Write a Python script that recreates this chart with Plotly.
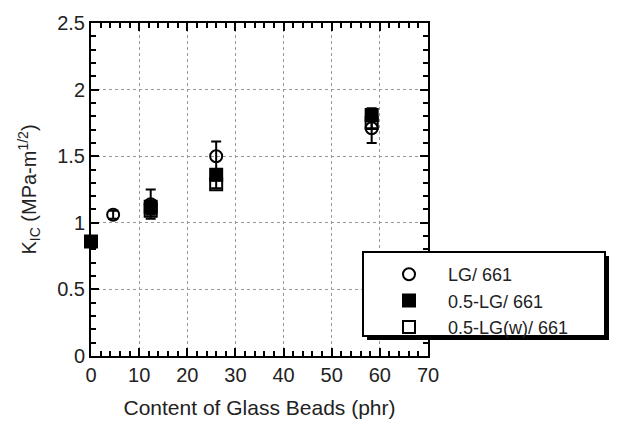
import plotly.graph_objects as go

# Data
x_lg = [4.6, 12.4, 26.0, 58.3]
y_lg = [1.06, 1.14, 1.50, 1.71]
e_lg = [0.03, 0.11, 0.11, 0.11]

x_05 = [0.0, 12.4, 26.0, 58.3]
y_05 = [0.86, 1.12, 1.36, 1.81]
e_05 = [0.02, 0.05, 0.04, 0.05]

x_05w = [12.4, 26.0, 58.3]
y_05w = [1.09, 1.29, 1.75]
e_05w = [0.03, 0.03, 0.04]

names = ["LG/ 661", "0.5-LG/ 661", "0.5-LG(w)/ 661"]

FONT = "Liberation Sans, Arial, sans-serif"
TXT = "#222"

fig = go.Figure()

def add(xv, yv, ev, name, symbol, rank):
    fig.add_trace(go.Scatter(
        x=xv, y=yv, mode="markers", name=name, legendrank=rank,
        marker=dict(symbol=symbol, size=12, color="black",
                    line=dict(color="black", width=2)),
        error_y=dict(type="data", array=ev, visible=True, color="black",
                     thickness=2, width=5),
        cliponaxis=False,
    ))

add(x_lg, y_lg, e_lg, names[0], "circle-open", 1)
add(x_05w, y_05w, e_05w, names[2], "square-open", 3)
add(x_05, y_05, e_05, names[1], "square", 2)

axis_common = dict(
    showline=True, linecolor="black", linewidth=2, mirror="allticks",
    ticks="inside", ticklen=8, tickwidth=2, tickcolor="black",
    showgrid=True, gridcolor="#999999", griddash="dot", gridwidth=1,
    zeroline=False, automargin=False,
    tickfont=dict(family=FONT, size=20, color=TXT),
)

fig.update_xaxes(
    range=[0, 70], dtick=10, tick0=0,
    minor=dict(dtick=2, ticks="inside", ticklen=5, tickwidth=1.5, tickcolor="black", showgrid=False),
    title=dict(text="Content of Glass Beads (phr)", font=dict(family=FONT, size=21, color=TXT), standoff=15),
    **axis_common,
)
fig.update_yaxes(
    range=[0, 2.5], dtick=0.5, tick0=0,
    minor=dict(dtick=0.1, ticks="inside", ticklen=5, tickwidth=1.5, tickcolor="black", showgrid=False),
    title=dict(text="K<sub>IC</sub> (MPa-m<sup>1/2</sup>)", font=dict(family=FONT, size=20, color=TXT), standoff=15),
    **axis_common,
)

# legend box with shadow
px_w, px_h = 337.0, 333.0
def px(xp, yp):
    return ((xp - 91) / px_w, (356 - yp) / px_h)

bx0, by0 = px(363, 252)
bx1, by1 = px(605, 336)
sx0, sy0 = px(367, 256)
sx1, sy1 = px(609, 340)
fig.add_shape(type="rect", xref="paper", yref="paper", x0=sx0, y0=sy0, x1=sx1, y1=sy1,
              fillcolor="black", line=dict(width=0), layer="above")
fig.add_shape(type="rect", xref="paper", yref="paper", x0=bx0, y0=by0, x1=bx1, y1=by1,
              fillcolor="white", line=dict(color="black", width=2), layer="above")

lx, ly = px(370, 256)
fig.update_layout(
    width=619, height=422,
    margin=dict(l=91, r=191, t=23, b=66, autoexpand=False),
    paper_bgcolor="white", plot_bgcolor="white",
    showlegend=True,
    legend=dict(x=lx, y=ly, xanchor="left", yanchor="top",
                bgcolor="rgba(0,0,0,0)", borderwidth=0,
                font=dict(family=FONT, size=18, color=TXT),
                tracegroupgap=0, itemwidth=68),
)

fig.write_html("out.html")
